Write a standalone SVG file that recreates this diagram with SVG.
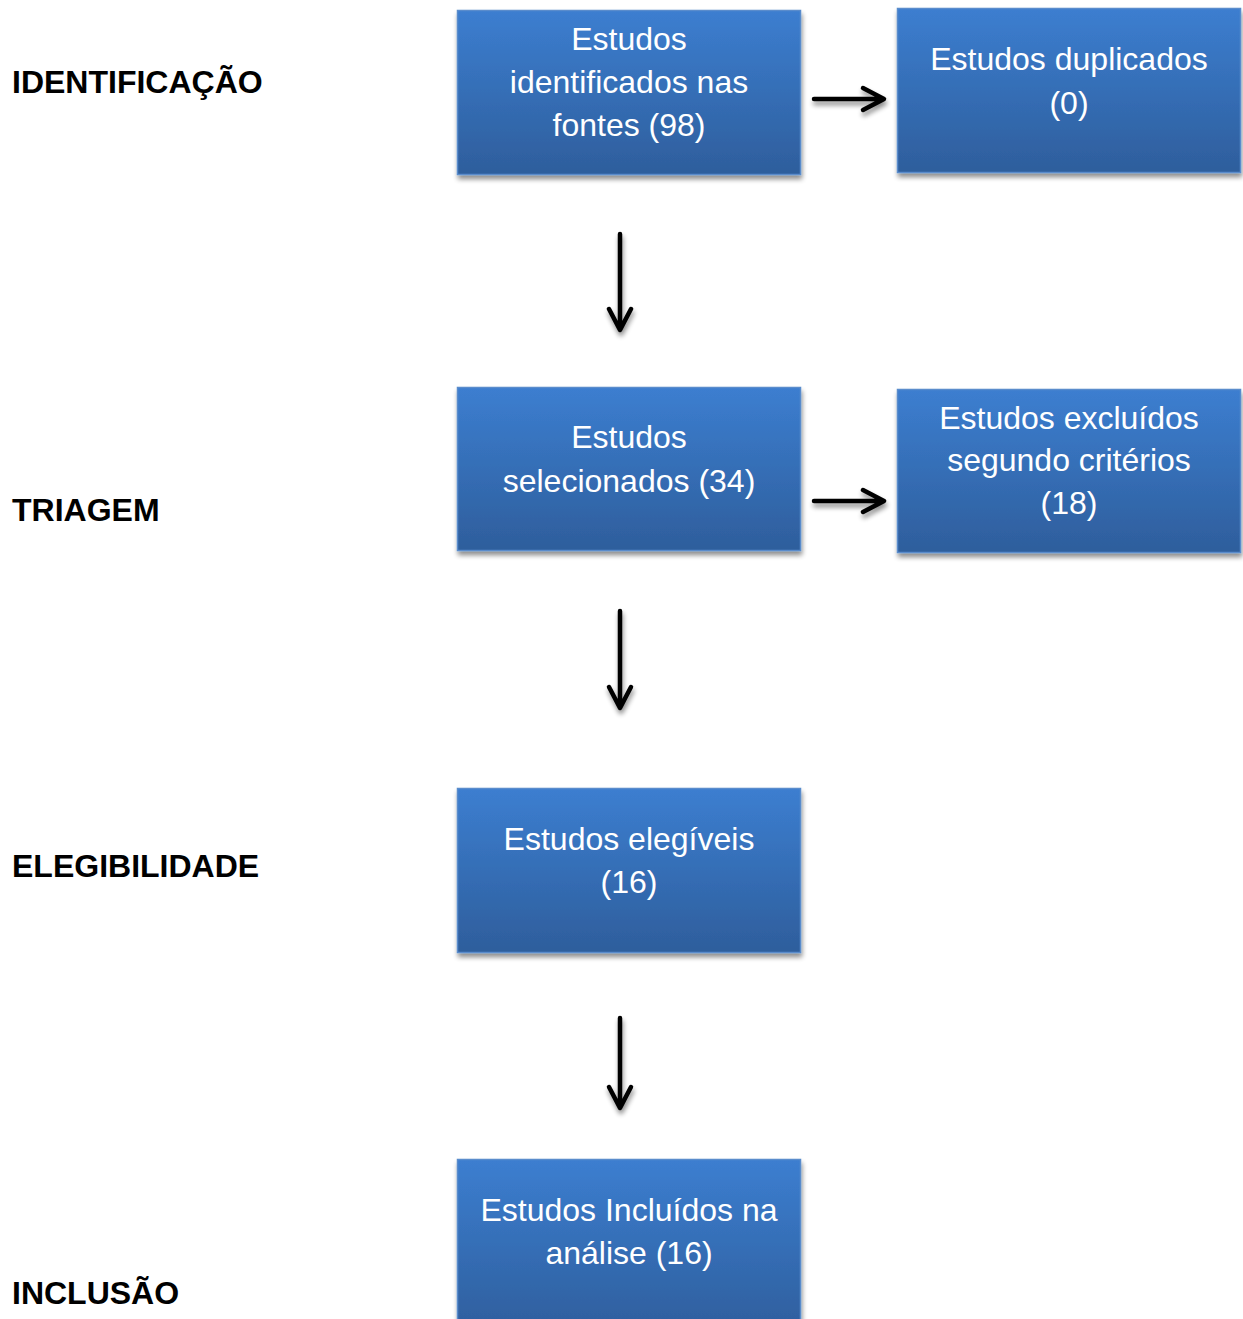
<svg xmlns="http://www.w3.org/2000/svg" width="1243" height="1319" viewBox="0 0 1243 1319">
<style>
.box{fill:url(#g);stroke:#5a8ccc;stroke-width:1.5;filter:url(#sh)}
.bt{font-family:"Liberation Sans",Arial,sans-serif;font-size:32px;fill:#ffffff;text-anchor:middle}
.lb{font-family:"Liberation Sans",Arial,sans-serif;font-size:32px;font-weight:bold;fill:#000000}
.ar{fill:none;stroke:#000;stroke-width:4.5;stroke-linecap:round;stroke-linejoin:round}
</style>
<defs>
<linearGradient id="g" x1="0" y1="0" x2="0" y2="1">
<stop offset="0" stop-color="#3c7ed0"/>
<stop offset="1" stop-color="#2e5e9c"/>
</linearGradient>
<filter id="sh" x="-5%" y="-5%" width="115%" height="125%">
<feGaussianBlur in="SourceAlpha" stdDeviation="2.5"/>
<feOffset dx="1" dy="4" result="b"/>
<feComponentTransfer><feFuncA type="linear" slope="0.45"/></feComponentTransfer>
<feMerge><feMergeNode/><feMergeNode in="SourceGraphic"/></feMerge>
</filter>
</defs>
<rect width="1243" height="1319" fill="#ffffff"/>
<g id="labels">
<text class="lb" x="12" y="93">IDENTIFICAÇÃO</text>
<text class="lb" x="12" y="521">TRIAGEM</text>
<text class="lb" x="12" y="877">ELEGIBILIDADE</text>
<text class="lb" x="12" y="1304">INCLUSÃO</text>
</g>
<g id="n1"><rect class="box" x="457.5" y="10.5" width="343" height="164"/>
<text class="bt" x="629" y="50">Estudos</text>
<text class="bt" x="629" y="93">identificados nas</text>
<text class="bt" x="629" y="136">fontes (98)</text></g>
<g id="n2"><rect class="box" x="897.5" y="8.5" width="343" height="164"/>
<text class="bt" x="1069" y="70">Estudos duplicados</text>
<text class="bt" x="1069" y="114">(0)</text></g>
<g id="n3"><rect class="box" x="457.5" y="387.5" width="343" height="163"/>
<text class="bt" x="629" y="448">Estudos</text>
<text class="bt" x="629" y="492">selecionados (34)</text></g>
<g id="n4"><rect class="box" x="897.5" y="389.5" width="343" height="163"/>
<text class="bt" x="1069" y="429">Estudos excluídos</text>
<text class="bt" x="1069" y="471">segundo critérios</text>
<text class="bt" x="1069" y="514">(18)</text></g>
<g id="n5"><rect class="box" x="457.5" y="788.5" width="343" height="164"/>
<text class="bt" x="629" y="850">Estudos elegíveis</text>
<text class="bt" x="629" y="893">(16)</text></g>
<g id="n6"><rect class="box" x="457.5" y="1159.5" width="343" height="175"/>
<text class="bt" x="629" y="1221">Estudos Incluídos na</text>
<text class="bt" x="629" y="1264">análise (16)</text></g>
<g id="connectors" filter="url(#sh)">
<path class="ar" d="M814 99 H883 M863 88 L884 99 L863 110"/>
<path class="ar" d="M814 501 H883 M863 490 L884 501 L863 512"/>
<path class="ar" d="M620 234 V329 M609 309 L620 330 L631 309"/>
<path class="ar" d="M620 611 V707 M609 687 L620 708 L631 687"/>
<path class="ar" d="M620 1018 V1107 M609 1087 L620 1108 L631 1087"/>
</g>
</svg>
